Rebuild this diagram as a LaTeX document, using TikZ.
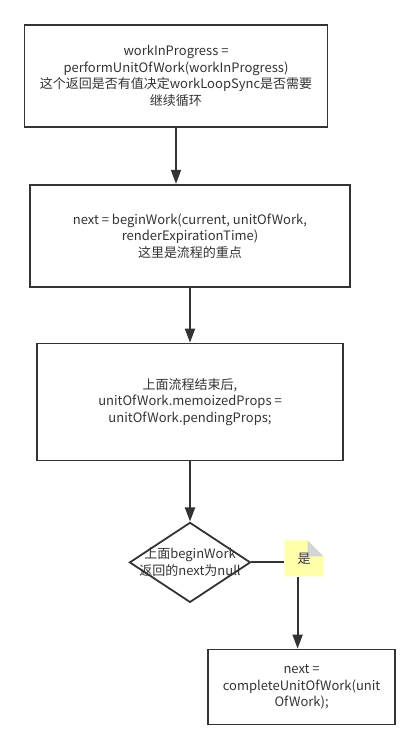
\documentclass[tikz,border=0pt]{standalone}
\usepackage{fontspec}
\setmainfont{Noto Sans CJK SC}
\usetikzlibrary{positioning, arrows.meta, shapes.geometric}
\definecolor{inkgray}{HTML}{333333}
\definecolor{notefill}{HTML}{FFFFAA}
\definecolor{foldgray}{HTML}{D4D4D4}
\tikzset{flow box/.style={rectangle, draw=inkgray, line width=1.8pt, align=center, inner sep=3pt, text=inkgray, font=\fontsize{13}{16.5}\selectfont},
	decision/.style={diamond, draw=inkgray, line width=1.8pt, inner sep=0pt, minimum width=121pt, minimum height=80pt},
	note/.style={rectangle, inner sep=0pt, minimum width=39pt, minimum height=36pt, text=inkgray, font=\fontsize{13}{16.5}\selectfont,
		path picture={
			\fill[notefill] (path picture bounding box.south west) -- (path picture bounding box.north west)
				-- ([xshift=-16pt]path picture bounding box.north east) -- ([yshift=-16pt]path picture bounding box.north east)
				-- (path picture bounding box.south east) -- cycle;
			\fill[foldgray] ([xshift=-16pt]path picture bounding box.north east) -- ([yshift=-16pt]path picture bounding box.north east)
				-- ([xshift=-16pt, yshift=-16pt]path picture bounding box.north east) -- cycle;
		}},
	arr/.style={-{Triangle[length=14pt, width=10pt]}, draw=inkgray, line width=1.8pt},}

\begin{document}
\begin{tikzpicture}[x=1pt, y=1pt]
				\useasboundingbox (0,0) rectangle (411,742);
				% Boxes
				\node[flow box, minimum width=303pt, minimum height=102pt] (perform) at (176,666) {workInProgress =\\performUnitOfWork(workInProgress)\\这个返回是否有值决定workLoopSync是否需要\\继续循环};
				\node[flow box, minimum width=320pt, minimum height=102pt] [below = 56pt of perform, xshift=14pt] (begin) {next = beginWork(current, unitOfWork,\\renderExpirationTime)\\这里是流程的重点};
				\node[flow box, minimum width=306pt, minimum height=117pt] [below = 55pt of begin] (props) {上面流程结束后,\\unitOfWork.memoizedProps =\\unitOfWork.pendingProps;};
				\node[decision] [below = 60pt of props] (check) {};
				\node[align=center, text=inkgray, font=\fontsize{13}{16.5}\selectfont] (checktext) at (check) {上面beginWork\\返回的next为null};
				\node[note] [right = 33pt of check, yshift=4pt] (yes) {是};
				\node[flow box, minimum width=187pt, minimum height=75pt] [below = 72pt of yes, xshift=-2.5pt] (complete) {next =\\completeUnitOfWork(unit\\OfWork);};
				% Paths
				\draw[arr] (perform.south) -- (perform.south |- begin.north);
				\draw[arr] (begin.south) -- (props.north);
				\draw[arr] (props.south) -- (check.north);
				\draw[inkgray, line width=1.8pt] (check.east) -- (check.east -| yes.west);
				\draw[arr] ([xshift=-6.5pt]yes.south) -- ([xshift=-6.5pt]yes.south |- complete.north);
			\end{tikzpicture}
\end{document}
